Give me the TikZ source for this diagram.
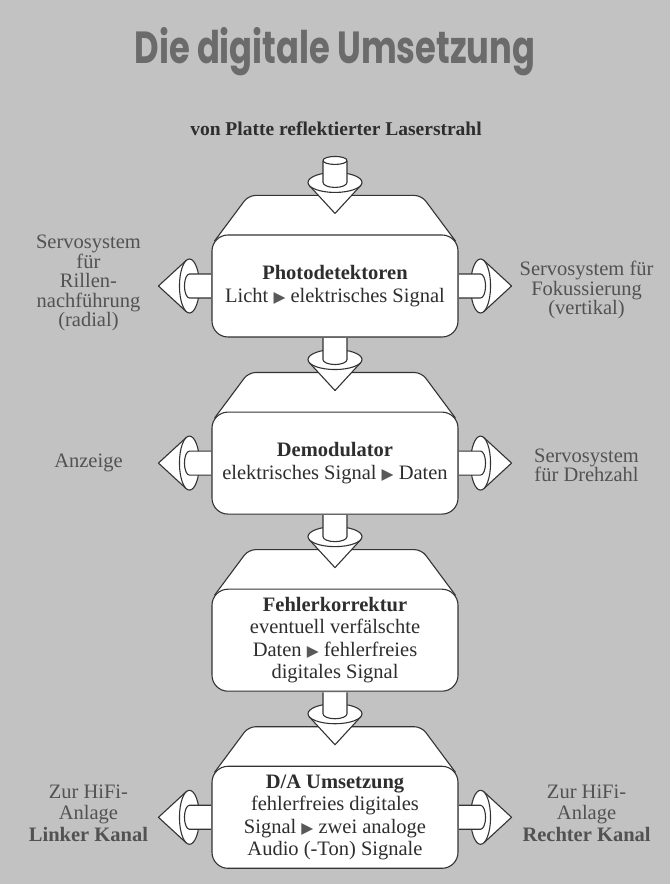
\documentclass[tikz,border=0pt]{standalone}
\usepackage{fontspec}
\setmainfont{Liberation Serif}
\newfontfamily\titlefont{Poppins}
\newfontfamily\symfont{DejaVu Sans}
\usetikzlibrary{positioning, calc}
\colorlet{linegray}{black!80}
\colorlet{textgray}{black!82}
\colorlet{sidegray}{black!68}
\colorlet{papergray}{black!24}
\pgfdeclarelayer{paper}
\pgfdeclarelayer{roofs}
\pgfsetlayers{paper,roofs,main}
\newcommand{\pfeil}{{\symfont\fontsize{15.5}{15.5}\selectfont\textcolor{black!65}{▶}}}
\tikzset{blockbox/.style={draw=linegray, fill=white, line width=1.1pt, rounded corners=16pt, minimum width=246pt, minimum height=102pt, align=center, inner sep=2pt, text=textgray, font=\fontsize{20.5}{22.5}\selectfont},
	roofface/.style={draw=linegray, fill=white, line width=1.1pt, rounded corners=7pt},
	conepart/.style={draw=linegray, fill=white, line width=1.1pt, line join=round},
	sidetext/.style={align=center, text=sidegray, font=\fontsize{20.5}{19.5}\selectfont},
	conelink/.pic={
		\filldraw[conepart] (-25.6,-25.2) -- (0,-53) -- (25.6,-25.2) -- cycle;
		\filldraw[conepart] (0,-22) ellipse [x radius=27, y radius=10];
		\filldraw[conepart] (-12,-0.6) -- (-12,-22) arc [start angle=180, end angle=360, x radius=12, y radius=5] -- (12,-0.6);
		\coordinate (-tip) at (0,-53);
	},}

\begin{document}
\begin{tikzpicture}[x=1pt, y=1pt]
			% Paper
			\begin{pgfonlayer}{paper}
				\fill[papergray] (0,0) rectangle (670,884);
			\end{pgfonlayer}
			\useasboundingbox (0,0) rectangle (670,884);

			% Headings
			\node[anchor=base, text=black!58, font=\titlefont\bfseries\fontsize{45}{45}\selectfont] (title) at (335,820) {\scalebox{0.75}[1]{Die digitale Umsetzung}};
			\node[anchor=base, text=textgray, font=\bfseries\fontsize{19.5}{22}\selectfont] (laserstrahl) at (336,748) {von Platte reflektierter Laserstrahl};

			% Blocks
			\node[blockbox] (photo) at (335,598) {\textbf{Photodetektoren}\\Licht \pfeil{} elektrisches Signal};
			\node[blockbox] [below = 74pt of photo] (demod) {\textbf{Demodulator}\\elektrisches Signal \pfeil{} Daten};
			\node[blockbox] [below = 74pt of demod] (fehler) {\textbf{Fehlerkorrektur}\\eventuell verfälschte\\Daten \pfeil{} fehlerfreies\\digitales Signal};
			\node[blockbox] [below = 74pt of fehler] (dawandler) {\textbf{D/A Umsetzung}\\fehlerfreies digitales\\Signal \pfeil{} zwei analoge\\Audio (-Ton) Signale};

			% Roofs
			\begin{pgfonlayer}{roofs}
				\foreach \b in {photo, demod, fehler, dawandler}
					\filldraw[roofface] ([shift={(3,-6.7)}]\b.north west) -- ([shift={(37,39)}]\b.north west) -- ([shift={(-37,39)}]\b.north east) -- ([shift={(-3,-6.7)}]\b.north east);
			\end{pgfonlayer}

			% Connectors
			\coordinate (laser) at ([yshift=74pt]photo.north);
			\pic (cin) at (laser) {conelink};
			\filldraw[conepart] (laser) ellipse [x radius=12, y radius=4];
			\pic (c12) at (photo.south) {conelink};
			\pic (c23) at (demod.south) {conelink};
			\pic (c34) at (fehler.south) {conelink};
			\pic[rotate=-90] (cradial) at (photo.west) {conelink};
			\pic[rotate=90] (cfokus) at (photo.east) {conelink};
			\pic[rotate=-90] (canzeige) at (demod.west) {conelink};
			\pic[rotate=90] (cdreh) at (demod.east) {conelink};
			\pic[rotate=-90] (clinks) at (dawandler.west) {conelink};
			\pic[rotate=90] (crechts) at (dawandler.east) {conelink};

			% Side labels
			\node[sidetext] (radial) at ([xshift=-70pt, yshift=3pt]cradial-tip) {Servosystem\\für\\Rillen-\\nachführung\\(radial)};
			\node[sidetext] (fokus) at ([xshift=75pt, yshift=-4pt]cfokus-tip) {Servosystem für\\Fokussierung\\(vertikal)};
			\node[sidetext] (anzeige) at ([xshift=-70pt]canzeige-tip) {Anzeige};
			\node[sidetext] (dreh) at ([xshift=75pt, yshift=-2pt]cdreh-tip) {Servosystem\\für Drehzahl};
			\node[sidetext, font=\fontsize{20.5}{21.5}\selectfont] (links) at ([xshift=-70pt, yshift=4pt]clinks-tip) {Zur HiFi-\\Anlage\\\textbf{Linker Kanal}};
			\node[sidetext, font=\fontsize{20.5}{21.5}\selectfont] (rechts) at ([xshift=75pt, yshift=4pt]crechts-tip) {Zur HiFi-\\Anlage\\\textbf{Rechter Kanal}};
		\end{tikzpicture}
\end{document}
